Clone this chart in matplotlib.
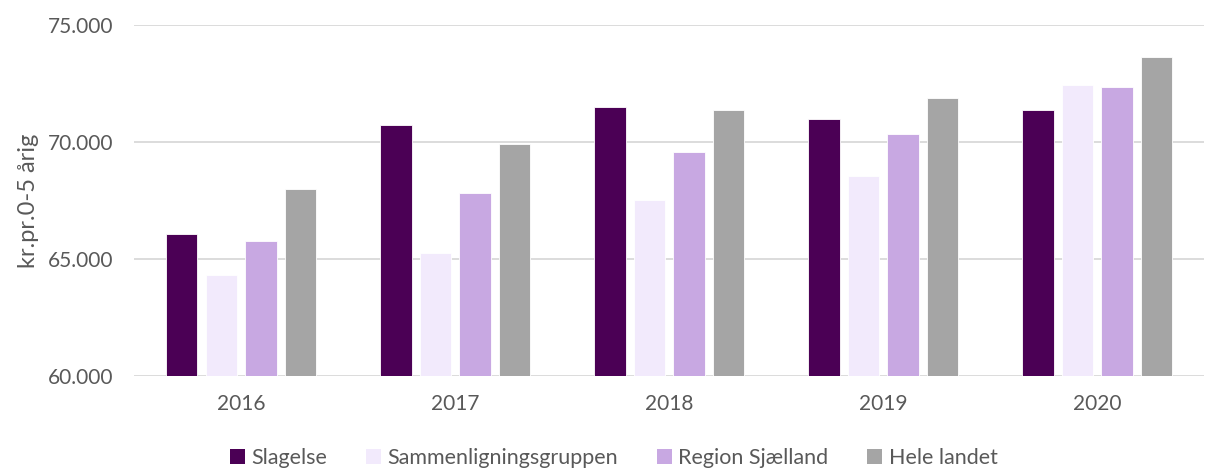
import matplotlib
matplotlib.use("Agg")
import matplotlib.pyplot as plt
import numpy as np

years = ["2016", "2017", "2018", "2019", "2020"]
series_names = ["Slagelse", "Sammenligningsgruppen", "Region Sjælland", "Hele landet"]
slagelse = [66070, 70730, 71500, 70980, 71380]
sammen = [64300, 65250, 67520, 68550, 72420]
region = [65770, 67810, 69580, 70350, 72330]
hele = [67980, 69910, 71360, 71860, 73650]
colors = ["#4B0055", "#F2EAFC", "#C8A8E2", "#A5A5A5"]
yticks = [60000, 65000, 70000, 75000]
ytick_labels = ["60.000", "65.000", "70.000", "75.000"]

plt.rcParams['font.family'] = ['Lato', 'DejaVu Sans']
fig = plt.figure(figsize=(12.08, 4.68), dpi=100)
ax = fig.add_axes([0.111, 0.1966, 0.886, 0.75])

x = np.arange(len(years))
step = 0.185
width = 0.147
for i, (vals, c, name) in enumerate(zip([slagelse, sammen, region, hele], colors, series_names)):
    ax.bar(x + (i - 1.5) * step, vals, width=width, color=c, label=name,
           edgecolor="white", linewidth=0.6, zorder=3)

ax.set_xlim(-0.5, 4.5)
ax.set_ylim(60000, 75000)
ax.set_yticks(yticks)
ax.set_yticklabels(ytick_labels)
ax.set_xticks(x)
ax.set_xticklabels(years)
ax.grid(axis="y", color="#D9D9D9", linewidth=1.3, zorder=0)
for s in ax.spines.values():
    s.set_visible(False)
ax.tick_params(axis="both", length=0, labelsize=15, colors="#595959")
ax.tick_params(axis="y", pad=15)
ax.tick_params(axis="x", pad=13)
ax.set_ylabel("kr.pr.0-5 årig", fontsize=17, color="#595959", labelpad=6)

leg = fig.legend(loc="center", bbox_to_anchor=(0.508, 0.022), ncol=4, frameon=False,
                 fontsize=15.5, handlelength=0.7, handleheight=0.7, handletextpad=0.3,
                 columnspacing=1.8, labelcolor="#595959")
for h in leg.legend_handles:
    h.set_edgecolor("none")
fig.savefig("out.png", dpi=100)
